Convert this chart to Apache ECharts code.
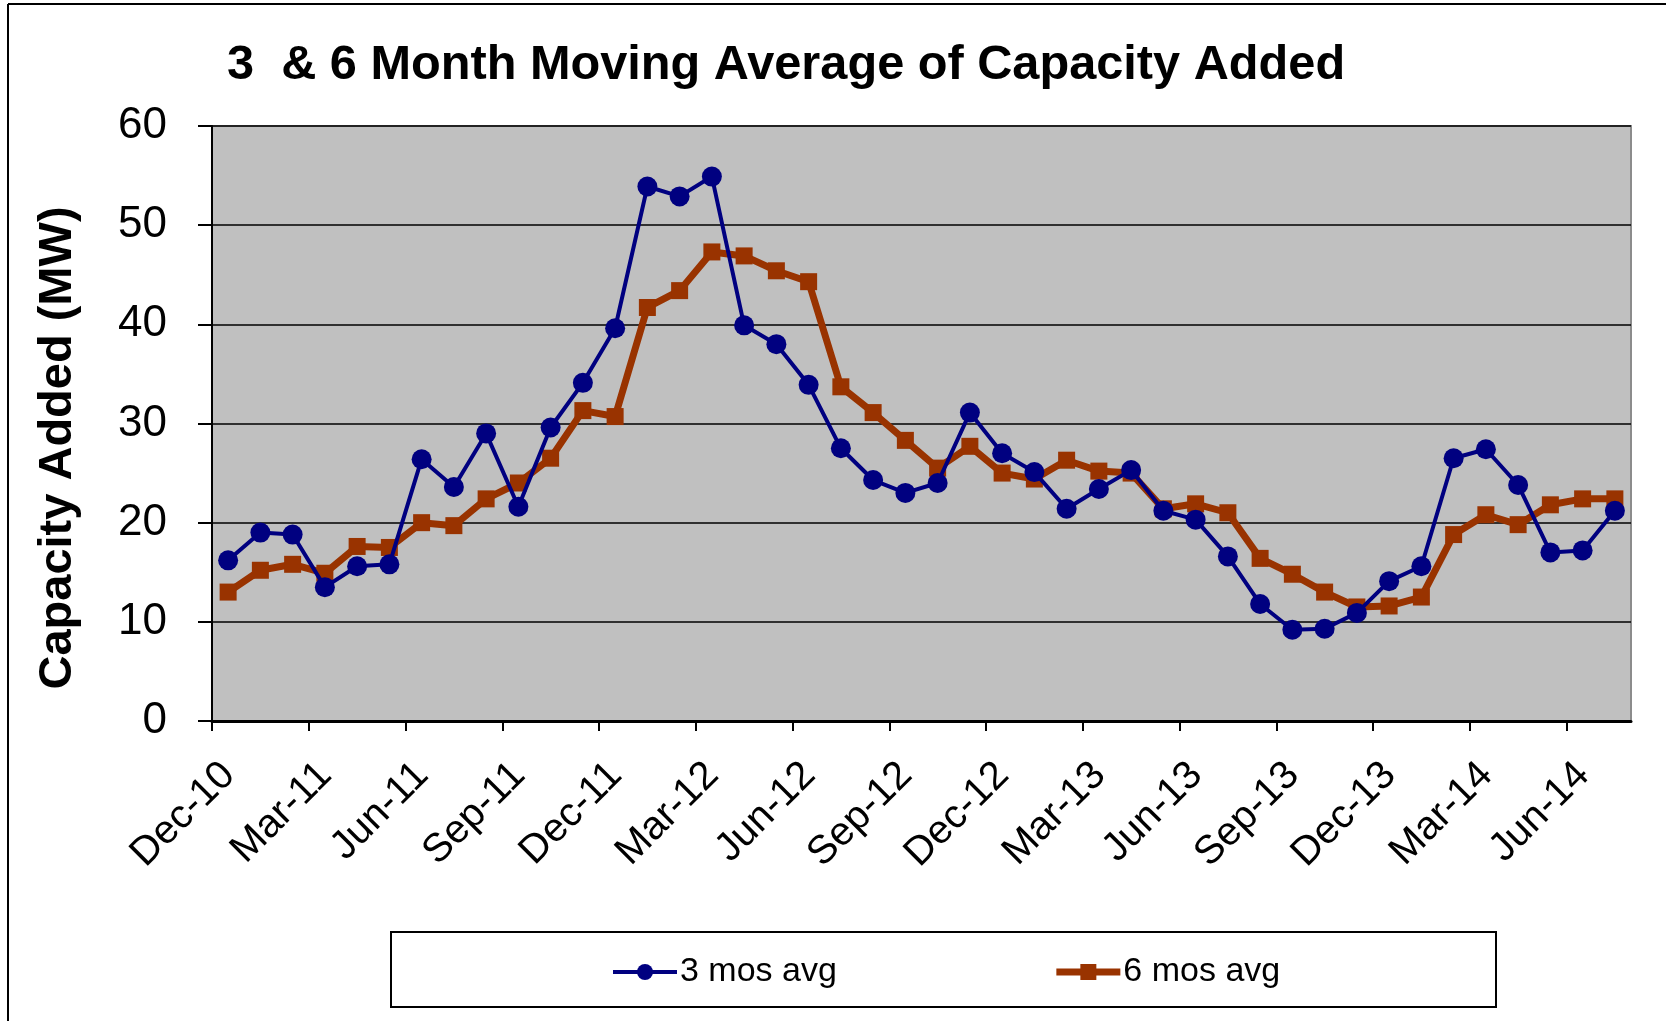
<!DOCTYPE html>
<html>
<head>
<meta charset="utf-8">
<script src="https://cdn.jsdelivr.net/npm/echarts@6/dist/echarts.min.js"></script>
<style>
  html, body { margin: 0; padding: 0; background: #ffffff; }
  #chart { width: 1666px; height: 1021px; }
</style>
</head>
<body>
<div id="chart"></div>
<script>
// ---- data ----
const tickLabels = ["Dec-10","Mar-11","Jun-11","Sep-11","Dec-11","Mar-12","Jun-12","Sep-12",
                    "Dec-12","Mar-13","Jun-13","Sep-13","Dec-13","Mar-14","Jun-14"];
const avg3 = [16.2, 19.0, 18.8, 13.5, 15.6, 15.8, 26.4, 23.6, 29.0, 21.6, 29.6, 34.1, 39.6,
              53.9, 52.9, 54.9, 39.9, 38.0, 33.9, 27.5, 24.3, 23.0, 24.0, 31.1, 27.0, 25.1,
              21.4, 23.4, 25.3, 21.2, 20.3, 16.6, 11.8, 9.2, 9.3, 10.9, 14.1, 15.6, 26.5,
              27.4, 23.8, 17.0, 17.2, 21.2];
const avg6 = [13.0, 15.2, 15.8, 14.9, 17.6, 17.5, 20.0, 19.7, 22.4, 24.0, 26.5, 31.3, 30.7,
              41.7, 43.4, 47.3, 46.9, 45.4, 44.3, 33.7, 31.1, 28.3, 25.5, 27.7, 25.0, 24.4,
              26.3, 25.2, 25.0, 21.4, 21.9, 21.0, 16.4, 14.8, 13.0, 11.5, 11.6, 12.5, 18.8,
              20.8, 19.8, 21.8, 22.4, 22.4];
const seriesNames = ["3 mos avg", "6 mos avg"];
const titleText = "3  & 6 Month Moving Average of Capacity Added";
const yTitle = "Capacity Added (MW)";

// ---- layout / style ----
const FONT = "'Liberation Sans', Arial, sans-serif";
const monthsPerTick = 3;
const nMonths = avg3.length;
const labelShift = 0.52;   // label anchor offset (in months) to mimic spreadsheet rotated label placement

// points sit in the middle of each month slot
const toPts = arr => arr.map((v, i) => [i + 0.5, v]);
const tickVals = tickLabels.map((_, k) => k * monthsPerTick);
const labelVals = tickVals.map(v => v + labelShift);

const chart = echarts.init(document.getElementById('chart'), null, { renderer: 'canvas' });

chart.setOption({
  backgroundColor: '#ffffff',
  animation: false,
  title: {
    text: titleText,
    left: 222, top: 36,
    textStyle: { fontFamily: FONT, fontWeight: 'bold', fontSize: 48.7, color: '#000' }
  },
  graphic: [
    { type: 'line', shape: { x1: 8, y1: 4, x2: 1666, y2: 4 }, style: { stroke: '#000', lineWidth: 2 } },
    { type: 'line', shape: { x1: 8, y1: 4, x2: 8, y2: 1021 }, style: { stroke: '#000', lineWidth: 2 } },
    { type: 'rect', shape: { x: 391, y: 932, width: 1105, height: 75 },
      style: { fill: '#fff', stroke: '#000', lineWidth: 2 }, z: 0 },
    { type: 'text', x: 58, y: 448, rotation: Math.PI / 2,
      style: { text: yTitle, fontFamily: FONT, fontWeight: 'bold', fontSize: 47, fill: '#000',
               align: 'center', verticalAlign: 'middle' } }
  ],
  legend: {
    data: [
      { name: seriesNames[0], lineStyle: { width: 4 } },
      { name: seriesNames[1], lineStyle: { width: 7 } }
    ],
    left: 606, top: 950,
    itemWidth: 64, itemHeight: 20,
    itemGap: 216,
    textStyle: { fontFamily: FONT, fontSize: 34, color: '#000', padding: [0, 0, 0, -2] },
    z: 10
  },
  grid: {
    left: 212, right: 35, top: 126, bottom: 300,
    show: true, backgroundColor: '#C0C0C0',
    borderColor: '#8c8c8c', borderWidth: 2
  },
  xAxis: {
    type: 'value',
    min: 0, max: nMonths,
    interval: monthsPerTick,
    axisLine: { show: true, onZero: false, lineStyle: { color: '#000', width: 3 } },
    axisTick: { show: true, length: 10, customValues: tickVals, lineStyle: { color: '#000', width: 2 } },
    splitLine: { show: false },
    axisLabel: {
      customValues: labelVals,
      rotate: 45,
      margin: 48,
      fontFamily: FONT, fontSize: 40, color: '#000',
      formatter: v => tickLabels[Math.round((v - labelShift) / monthsPerTick)] || ''
    }
  },
  yAxis: {
    type: 'value',
    min: 0, max: 60, interval: 10,
    axisLine: { show: true, lineStyle: { color: '#000', width: 2 } },
    axisTick: { show: true, inside: false, length: 14, lineStyle: { color: '#000', width: 2 } },
    splitLine: { show: true, lineStyle: { color: '#000', width: 1.5 } },
    axisLabel: { margin: 45, fontFamily: FONT, fontSize: 44, color: '#000' }
  },
  series: [
    {
      name: seriesNames[0], type: 'line',
      data: toPts(avg3),
      symbol: 'circle', symbolSize: 20,
      lineStyle: { color: '#000080', width: 4 },
      itemStyle: { color: '#000080' },
      z: 3
    },
    {
      name: seriesNames[1], type: 'line',
      data: toPts(avg6),
      symbol: 'rect', symbolSize: 17,
      lineStyle: { color: '#993300', width: 7 },
      itemStyle: { color: '#993300' },
      z: 2
    }
  ]
});
</script>
</body>
</html>
